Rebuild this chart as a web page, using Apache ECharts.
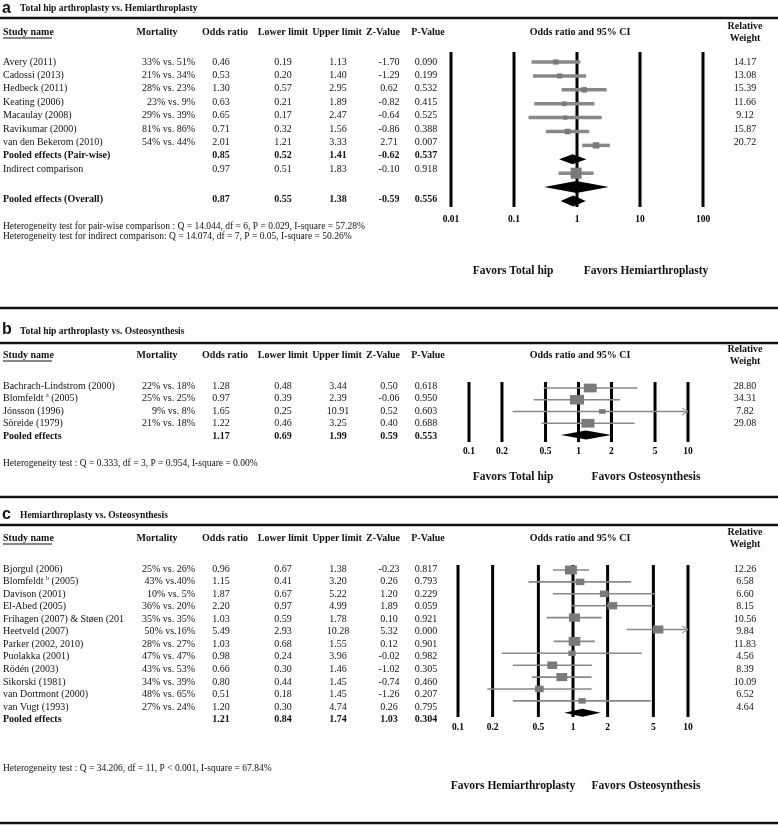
<!DOCTYPE html>
<html>
<head>
<meta charset="utf-8">
<script src="https://cdn.jsdelivr.net/npm/echarts@6/dist/echarts.min.js"></script>
<style>
html, body { margin: 0; padding: 0; background: #fff; }
#chart { width: 778px; height: 827px; }
</style>
</head>
<body>
<div id="chart"></div>
<script>
// ---- a: Total hip arthroplasty vs. Hemiarthroplasty
var aStudies = ['Avery (2011)', 'Cadossi (2013)', 'Hedbeck (2011)', 'Keating (2006)', 'Macaulay (2008)', 'Ravikumar (2000)', 'van den Bekerom (2010)'];
var aMortality = ['33% vs. 51%', '21% vs. 34%', '28% vs. 23%', '23% vs. 9%', '29% vs. 39%', '81% vs. 86%', '54% vs. 44%'];
var aOdds = [0.46, 0.53, 1.30, 0.63, 0.65, 0.71, 2.01];
var aLower = [0.19, 0.20, 0.57, 0.21, 0.17, 0.32, 1.21];
var aUpper = [1.13, 1.40, 2.95, 1.89, 2.47, 1.56, 3.33];
var aZ = [-1.70, -1.29, 0.62, -0.82, -0.64, -0.86, 2.71];
var aP = [0.090, 0.199, 0.532, 0.415, 0.525, 0.388, 0.007];
var aWeight = [14.17, 13.08, 15.39, 11.66, 9.12, 15.87, 20.72];
var aSumNames = ['Pooled effects (Pair-wise)', 'Indirect comparison', 'Pooled effects (Overall)'];
var aSumOdds = [0.85, 0.97, 0.87];
var aSumLower = [0.52, 0.51, 0.55];
var aSumUpper = [1.41, 1.83, 1.38];
var aSumZ = [-0.62, -0.10, -0.59];
var aSumP = [0.537, 0.918, 0.556];
var aSpread = [0.30, 0.98, 3.20];   // wide unlabelled diamond (low, mid, high)
var aTicks = [0.01, 0.1, 1, 10, 100];
var aTickLabels = ['0.01', '0.1', '1', '10', '100'];

// ---- b: Total hip arthroplasty vs. Osteosynthesis
var bStudies = ['Bachrach-Lindstrom (2000)', 'Blomfeldt {sup|a} (2005)', 'Jónsson (1996)', 'Söreide (1979)'];
var bMortality = ['22% vs. 18%', '25% vs. 25%', '9% vs. 8%', '21% vs. 18%'];
var bOdds = [1.28, 0.97, 1.65, 1.22];
var bLower = [0.48, 0.39, 0.25, 0.46];
var bUpper = [3.44, 2.39, 10.91, 3.25];
var bZ = [0.50, -0.06, 0.52, 0.40];
var bP = [0.618, 0.950, 0.603, 0.688];
var bWeight = [28.80, 34.31, 7.82, 29.08];
var bPooled = [1.17, 0.69, 1.99, 0.59, 0.553];   // or, lower, upper, z, p
var bTicks = [0.1, 0.2, 0.5, 1, 2, 5, 10];
var bTickLabels = ['0.1', '0.2', '0.5', '1', '2', '5', '10'];

// ---- c: Hemiarthroplasty vs. Osteosynthesis
var cStudies = ['Bjorgul (2006)', 'Blomfeldt {sup|b} (2005)', 'Davison (2001)', 'El-Abed (2005)', 'Frihagen (2007) & Støen (201', 'Heetveld (2007)', 'Parker (2002, 2010)', 'Puolakka (2001)', 'Rödén (2003)', 'Sikorski (1981)', 'van Dortmont (2000)', 'van Vugt (1993)'];
var cMortality = ['25% vs. 26%', '43% vs.40%', '10% vs. 5%', '36% vs. 20%', '35% vs. 35%', '50% vs.16%', '28% vs. 27%', '47% vs. 47%', '43% vs. 53%', '34% vs. 39%', '48% vs. 65%', '27% vs. 24%'];
var cOdds = [0.96, 1.15, 1.87, 2.20, 1.03, 5.49, 1.03, 0.98, 0.66, 0.80, 0.51, 1.20];
var cLower = [0.67, 0.41, 0.67, 0.97, 0.59, 2.93, 0.68, 0.24, 0.30, 0.44, 0.18, 0.30];
var cUpper = [1.38, 3.20, 5.22, 4.99, 1.78, 10.28, 1.55, 3.96, 1.46, 1.45, 1.45, 4.74];
var cZ = [-0.23, 0.26, 1.20, 1.89, 0.10, 5.32, 0.12, -0.02, -1.02, -0.74, -1.26, 0.26];
var cP = [0.817, 0.793, 0.229, 0.059, 0.921, 0.000, 0.901, 0.982, 0.305, 0.460, 0.207, 0.795];
var cWeight = [12.26, 6.58, 6.60, 8.15, 10.56, 9.84, 11.83, 4.56, 8.39, 10.09, 6.52, 4.64];
var cPooled = [1.21, 0.84, 1.74, 1.03, 0.304];
var cTicks = bTicks;
var cTickLabels = bTickLabels;

var SERIF = '"Liberation Serif", "Times New Roman", serif';
var SANS = '"Liberation Sans", Arial, sans-serif';
var LINE_GREY = '#888888';
var BOX_GREY = '#7a7a7a';

// table columns (x position, alignment)
var cols = [
  { key: 'name', x: 3, align: 'left' },
  { key: 'mort', x: 195, align: 'right' },
  { key: 'or', x: 221, align: 'center' },
  { key: 'lo', x: 283, align: 'center' },
  { key: 'hi', x: 338, align: 'center' },
  { key: 'z', x: 389, align: 'center' },
  { key: 'p', x: 426, align: 'center' },
  { key: 'w', x: 745, align: 'center' }
];

function row(slot, name, mort, or, lo, hi, z, p, w, bold) {
  return {
    slot: slot, name: name, mort: mort || '',
    or: or.toFixed(2), lo: lo.toFixed(2), hi: hi.toFixed(2),
    z: z.toFixed(2), p: p.toFixed(3), w: w == null ? '' : w.toFixed(2), bold: !!bold
  };
}

function studyRows(names, mort, or, lo, hi, z, p, w) {
  return names.map(function (n, i) { return row(i, n, mort[i], or[i], lo[i], hi[i], z[i], p[i], w[i]); });
}

function studyMarks(or, lo, hi, w, k, ratio) {
  return or.map(function (v, i) {
    var s = k * Math.sqrt(w[i]);
    return { kind: 'sq', slot: i, or: v, lo: lo[i], hi: hi[i], w: s, hh: s * ratio };
  });
}

// panel a
var aRows = studyRows(aStudies, aMortality, aOdds, aLower, aUpper, aZ, aP, aWeight);
aRows.push(row(7, aSumNames[0], '', aSumOdds[0], aSumLower[0], aSumUpper[0], aSumZ[0], aSumP[0], null, true));
aRows.push(row(8, aSumNames[1], '', aSumOdds[1], aSumLower[1], aSumUpper[1], aSumZ[1], aSumP[1], null, false));
aRows.push(row(10.25, aSumNames[2], '', aSumOdds[2], aSumLower[2], aSumUpper[2], aSumZ[2], aSumP[2], null, true));
var aMarks = studyMarks(aOdds, aLower, aUpper, aWeight, 1.45, 0.95);
aMarks.push({ kind: 'dia', slot: 7, or: aSumOdds[0], lo: aSumLower[0], hi: aSumUpper[0], h: 5 });
aMarks.push({ kind: 'sq', slot: 8, or: aSumOdds[1], lo: aSumLower[1], hi: aSumUpper[1], w: 11, hh: 11 });
aMarks.push({ kind: 'dia', slot: 9, or: aSpread[1], lo: aSpread[0], hi: aSpread[2], h: 6 });
aMarks.push({ kind: 'dia', slot: 10, or: aSumOdds[2], lo: aSumLower[2], hi: aSumUpper[2], h: 5.5 });

// panel b
var bRows = studyRows(bStudies, bMortality, bOdds, bLower, bUpper, bZ, bP, bWeight);
bRows.push(row(4, 'Pooled effects', '', bPooled[0], bPooled[1], bPooled[2], bPooled[3], bPooled[4], null, true));
var bMarks = studyMarks(bOdds, bLower, bUpper, bWeight, 2.4, 0.68);
bMarks.push({ kind: 'dia', slot: 4, or: bPooled[0], lo: bPooled[1], hi: bPooled[2], h: 4.5 });

// panel c
var cRows = studyRows(cStudies, cMortality, cOdds, cLower, cUpper, cZ, cP, cWeight);
cRows.push(row(12, 'Pooled effects', '', cPooled[0], cPooled[1], cPooled[2], cPooled[3], cPooled[4], null, true));
var cMarks = studyMarks(cOdds, cLower, cUpper, cWeight, 3.4, 0.75);
cMarks.push({ kind: 'dia', slot: 12, or: cPooled[0], lo: cPooled[1], hi: cPooled[2], h: 4 });

var panels = [
  { grid: { left: 451, width: 252, top: 52, height: 155 }, range: [0.01, 100],
    text: { top: 62, step: 13.4 }, plot: { top: 62, step: 13.9 },
    tickY: 220, ciW: 3.5, rows: aRows, marks: aMarks, ticks: aTicks, tickLabels: aTickLabels },
  { grid: { left: 469, width: 219, top: 382, height: 60 }, range: [0.1, 10],
    text: { top: 386, step: 12.5 }, plot: { top: 388, step: 11.75 },
    tickY: 452, ciW: 1.6, rows: bRows, marks: bMarks, ticks: bTicks, tickLabels: bTickLabels },
  { grid: { left: 458, width: 230, top: 565, height: 152 }, range: [0.1, 10],
    text: { top: 569, step: 12.55 }, plot: { top: 570, step: 11.9 },
    tickY: 728, ciW: 1.6, rows: cRows, marks: cMarks, ticks: cTicks, tickLabels: cTickLabels }
];

function yRange(g, t) {
  var min = -(t.top - g.top) / t.step;
  return [min, min + g.height / t.step];
}

function textRender(rows) {
  return function (params, api) {
    var r = rows[params.dataIndex];
    var y = api.coord([1, r.slot])[1];
    return {
      type: 'group',
      children: cols.map(function (c) {
        return {
          type: 'text',
          style: {
            x: c.x, y: y, text: r[c.key], fill: '#111',
            fontSize: 10, fontFamily: SERIF, fontWeight: r.bold ? 'bold' : 'normal',
            align: c.align, verticalAlign: 'middle',
            rich: { sup: { fontSize: 6, fontFamily: SERIF, verticalAlign: 'top', padding: [0, 0, 6, 0] } }
          }
        };
      })
    };
  };
}

function markRender(marks, maxX, ciW) {
  return function (params, api) {
    var m = marks[params.dataIndex];
    var c = api.coord([m.or, m.slot]);
    var lo = api.coord([m.lo, m.slot]);
    var hi = api.coord([Math.min(m.hi, maxX), m.slot]);
    var kids = [];
    if (m.kind === 'dia') {
      kids.push({ type: 'polygon', shape: { points: [[lo[0], c[1]], [c[0], c[1] - m.h], [hi[0], c[1]], [c[0], c[1] + m.h]] }, style: { fill: '#000' } });
    } else {
      kids.push({ type: 'line', shape: { x1: lo[0], y1: c[1], x2: hi[0], y2: c[1] }, style: { stroke: LINE_GREY, lineWidth: ciW } });
      if (m.hi > maxX) {
        kids.push({ type: 'polyline', shape: { points: [[hi[0] - 6, c[1] - 3.5], [hi[0], c[1]], [hi[0] - 6, c[1] + 3.5]] }, style: { stroke: LINE_GREY, lineWidth: 1, fill: 'none' } });
      }
      kids.push({ type: 'rect', shape: { x: c[0] - m.w / 2, y: c[1] - m.hh / 2, width: m.w, height: m.hh }, style: { fill: BOX_GREY } });
    }
    return { type: 'group', children: kids };
  };
}

function tickRender(ticks, labels, labelY) {
  return function (params, api) {
    var x = api.coord([ticks[params.dataIndex], 0])[0];
    var cs = params.coordSys;
    return {
      type: 'group',
      children: [
        { type: 'line', shape: { x1: x, y1: cs.y, x2: x, y2: cs.y + cs.height }, style: { stroke: '#000', lineWidth: 3 } },
        { type: 'text', style: { x: x, y: labelY, text: labels[params.dataIndex], fill: '#000', fontSize: 9.5, fontWeight: 'bold', fontFamily: SERIF, align: 'center', verticalAlign: 'middle' } }
      ]
    };
  };
}

var grids = [], xAxes = [], yAxes = [], series = [];
panels.forEach(function (p, i) {
  grids.push(p.grid);
  xAxes.push({ type: 'log', logBase: 10, gridIndex: i, min: p.range[0], max: p.range[1], show: false });
  var tr = yRange(p.grid, p.text), pr = yRange(p.grid, p.plot);
  yAxes.push({ type: 'value', gridIndex: i, inverse: true, min: tr[0], max: tr[1], show: false });
  yAxes.push({ type: 'value', gridIndex: i, inverse: true, min: pr[0], max: pr[1], show: false });
  series.push({
    type: 'custom', xAxisIndex: i, yAxisIndex: 2 * i + 1, clip: false, z: 1,
    renderItem: tickRender(p.ticks, p.tickLabels, p.tickY),
    data: p.ticks.map(function (t) { return [t, 0]; })
  });
  series.push({
    type: 'custom', xAxisIndex: i, yAxisIndex: 2 * i + 1, clip: false, z: 3,
    renderItem: markRender(p.marks, p.range[1], p.ciW),
    data: p.marks.map(function (m) { return [m.or, m.slot]; })
  });
  series.push({
    type: 'custom', xAxisIndex: i, yAxisIndex: 2 * i, clip: false, z: 3,
    renderItem: textRender(p.rows),
    data: p.rows.map(function (r) { return [1, r.slot]; })
  });
});

// static text and rules
var graphic = [];
function txt(x, y, text, size, weight, align, family) {
  graphic.push({ type: 'text', x: x, y: y, style: { text: text, fill: '#111', fontSize: size, fontWeight: weight || 'normal', fontFamily: family || SERIF, align: align || 'left', verticalAlign: 'middle' } });
}
function rule(y, w) {
  graphic.push({ type: 'line', shape: { x1: 0, y1: y, x2: 778, y2: y }, style: { stroke: '#111', lineWidth: w || 2.5 } });
}
function headers(y) {
  txt(3, y, 'Study name', 10, 'bold');
  graphic.push({ type: 'line', shape: { x1: 3, y1: y + 6, x2: 52, y2: y + 6 }, style: { stroke: '#111', lineWidth: 1 } });
  txt(157, y, 'Mortality', 10, 'bold', 'center');
  txt(225, y, 'Odds ratio', 10, 'bold', 'center');
  txt(283, y, 'Lower limit', 10, 'bold', 'center');
  txt(337, y, 'Upper limit', 10, 'bold', 'center');
  txt(383, y, 'Z-Value', 10, 'bold', 'center');
  txt(428, y, 'P-Value', 10, 'bold', 'center');
  txt(580, y, 'Odds ratio and 95% CI', 10, 'bold', 'center');
  txt(745, y - 6, 'Relative', 10, 'bold', 'center');
  txt(745, y + 6, 'Weight', 10, 'bold', 'center');
}

txt(2, 9, 'a', 16, 'bold', 'left', SANS);
txt(20, 9, 'Total hip arthroplasty vs. Hemiarthroplasty', 9.5, 'bold');
rule(18);
headers(32);
txt(3, 226, 'Heterogeneity test for pair-wise comparison : Q = 14.044, df = 6, P = 0.029, I-square = 57.28%', 9.5);
txt(3, 236, 'Heterogeneity test for indirect comparison: Q = 14.074, df = 7, P = 0.05, I-square = 50.26%', 9.5);
txt(513, 271, 'Favors Total hip', 11.5, 'bold', 'center');
txt(646, 271, 'Favors Hemiarthroplasty', 11.5, 'bold', 'center');
rule(308);

txt(2, 330, 'b', 16, 'bold', 'left', SANS);
txt(20, 332, 'Total hip arthroplasty vs. Osteosynthesis', 9.5, 'bold');
rule(343);
headers(355);
txt(3, 463, 'Heterogeneity test : Q = 0.333, df = 3, P = 0.954, I-square = 0.00%', 9.5);
txt(513, 477, 'Favors Total hip', 11.5, 'bold', 'center');
txt(646, 477, 'Favors Osteosynthesis', 11.5, 'bold', 'center');
rule(497);

txt(2, 515, 'c', 16, 'bold', 'left', SANS);
txt(20, 516, 'Hemiarthroplasty vs. Osteosynthesis', 9.5, 'bold');
rule(525);
headers(538);
txt(3, 768, 'Heterogeneity test : Q = 34.206, df = 11, P < 0.001, I-square = 67.84%', 9.5);
txt(513, 786, 'Favors Hemiarthroplasty', 11.5, 'bold', 'center');
txt(646, 786, 'Favors Osteosynthesis', 11.5, 'bold', 'center');
rule(823);

var myChart = echarts.init(document.getElementById('chart'));
myChart.setOption({
  animation: false,
  backgroundColor: '#fff',
  grid: grids,
  xAxis: xAxes,
  yAxis: yAxes,
  graphic: graphic,
  series: series
});
</script>
</body>
</html>
